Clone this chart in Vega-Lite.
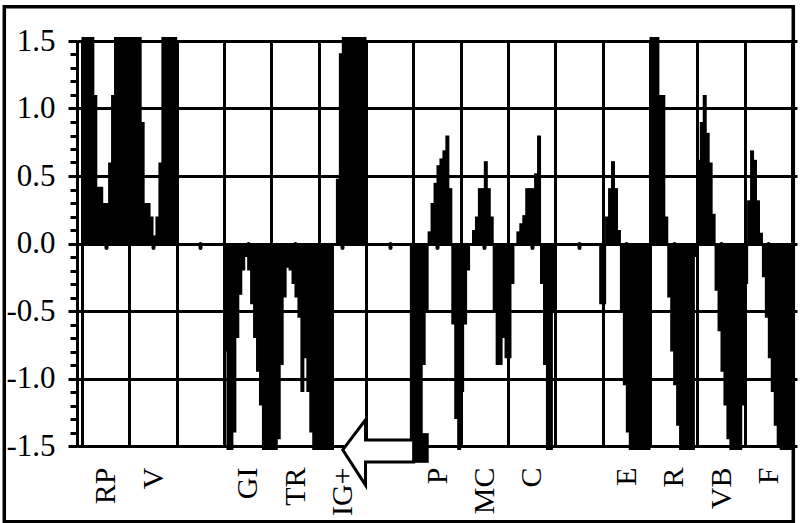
{
  "$schema": "https://vega.github.io/schema/vega-lite/v6.json",
  "width": 720,
  "height": 405,
  "autosize": "none",
  "padding": {"left": 77, "top": 41, "right": 4, "bottom": 77},
  "background": "white",
  "config": {
    "view": {"stroke": null},
    "legend": {"strokeWidth": 3.5},
    "axis": {
      "labelFont": "Liberation Serif",
      "labelColor": "black",
      "tickColor": "black",
      "domainColor": "black",
      "gridColor": "black",
      "gridOpacity": 1,
      "labelFlush": false,
      "labelOverlap": false
    }
  },
  "layer": [
    {
      "data": {"values": [
        {"n":1,"v":1.53},{"n":2,"v":1.53},{"n":3,"v":1.53},{"n":4,"v":1.53},{"n":5,"v":1.1},{"n":6,"v":0.42},{"n":7,"v":0.42},{"n":8,"v":0.3},{"n":9,"v":0.3},{"n":10,"v":0.6},{"n":11,"v":1.1},{"n":12,"v":1.53},{"n":13,"v":1.53},{"n":14,"v":1.53},{"n":15,"v":1.53},{"n":16,"v":1.53},
        {"n":17,"v":1.53},{"n":18,"v":1.53},{"n":19,"v":1.53},{"n":20,"v":1.53},{"n":21,"v":0.9},{"n":22,"v":0.3},{"n":23,"v":0.3},{"n":24,"v":0.2},{"n":25,"v":0.06},{"n":26,"v":0.2},{"n":27,"v":0.6},{"n":28,"v":1.53},{"n":29,"v":1.53},{"n":30,"v":1.53},{"n":31,"v":1.53},{"n":32,"v":1.53},
        {"n":49,"v":-0.8},{"n":50,"v":-1.53},{"n":51,"v":-1.53},{"n":52,"v":-1.4},{"n":53,"v":-0.7},{"n":54,"v":-0.38},{"n":55,"v":-0.2},{"n":56,"v":-0.1},{"n":57,"v":-0.2},{"n":58,"v":-0.45},{"n":59,"v":-0.7},{"n":60,"v":-0.95},{"n":61,"v":-1.2},{"n":62,"v":-1.53},{"n":63,"v":-1.53},{"n":64,"v":-1.53},
        {"n":65,"v":-1.53},{"n":66,"v":-1.53},{"n":67,"v":-1.45},{"n":68,"v":-0.9},{"n":69,"v":-0.4},{"n":70,"v":-0.18},{"n":71,"v":-0.2},{"n":72,"v":-0.3},{"n":73,"v":-0.4},{"n":74,"v":-0.55},{"n":75,"v":-1.1},{"n":76,"v":-0.85},{"n":77,"v":-1.1},{"n":78,"v":-1.4},{"n":79,"v":-1.53},{"n":80,"v":-1.53},
        {"n":81,"v":-1.53},{"n":82,"v":-1.53},{"n":83,"v":-1.53},{"n":84,"v":-1.53},{"n":85,"v":-1.53},{"n":87,"v":0.48},{"n":88,"v":1.41},{"n":89,"v":1.53},{"n":90,"v":1.53},{"n":91,"v":1.53},{"n":92,"v":1.53},{"n":93,"v":1.53},{"n":94,"v":1.53},{"n":95,"v":1.53},{"n":96,"v":1.53},
        {"n":112,"v":-1.53},
        {"n":113,"v":-1.53},{"n":114,"v":-1.53},{"n":115,"v":-1.53},{"n":116,"v":-0.9},{"n":117,"v":-0.5},{"n":118,"v":0.09},{"n":119,"v":0.3},{"n":120,"v":0.45},{"n":121,"v":0.58},{"n":122,"v":0.63},{"n":123,"v":0.69},{"n":124,"v":0.8},{"n":125,"v":0.41},{"n":126,"v":-0.6},{"n":127,"v":-1.3},{"n":128,"v":-1.53},
        {"n":129,"v":-1.1},{"n":130,"v":-0.6},{"n":131,"v":-0.2},{"n":133,"v":0.1},{"n":134,"v":0.2},{"n":135,"v":0.41},{"n":136,"v":0.41},{"n":137,"v":0.61},{"n":138,"v":0.41},{"n":139,"v":0.2},{"n":140,"v":-0.5},{"n":141,"v":-0.9},{"n":142,"v":-0.9},{"n":143,"v":-0.7},{"n":144,"v":-0.85},
        {"n":145,"v":-0.85},{"n":146,"v":-0.3},{"n":148,"v":0.09},{"n":149,"v":0.15},{"n":150,"v":0.21},{"n":151,"v":0.41},{"n":152,"v":0.41},{"n":153,"v":0.41},{"n":154,"v":0.52},{"n":155,"v":0.8},{"n":156,"v":-0.3},{"n":157,"v":-0.9},{"n":158,"v":-1.53},{"n":159,"v":-1.53},{"n":160,"v":-0.5},
        {"n":176,"v":-0.45},
        {"n":177,"v":-0.45},{"n":178,"v":0.2},{"n":179,"v":0.41},{"n":180,"v":0.61},{"n":181,"v":0.41},{"n":182,"v":0.1},{"n":183,"v":-0.5},{"n":184,"v":-1.05},{"n":185,"v":-1.4},{"n":186,"v":-1.53},{"n":187,"v":-1.53},{"n":188,"v":-1.53},{"n":189,"v":-1.53},{"n":190,"v":-1.53},{"n":191,"v":-1.53},{"n":192,"v":-1.53},
        {"n":193,"v":1.53},{"n":194,"v":1.53},{"n":195,"v":1.53},{"n":196,"v":1.1},{"n":197,"v":1.1},{"n":198,"v":0.2},{"n":199,"v":-0.4},{"n":200,"v":-0.8},{"n":201,"v":-1.05},{"n":202,"v":-1.35},{"n":203,"v":-1.53},{"n":204,"v":-1.53},{"n":205,"v":-1.53},{"n":206,"v":-1.53},{"n":207,"v":-1.53},{"n":208,"v":-0.1},
        {"n":209,"v":0.62},{"n":210,"v":0.9},{"n":211,"v":1.1},{"n":212,"v":0.82},{"n":213,"v":0.6},{"n":214,"v":0.22},{"n":215,"v":-0.35},{"n":216,"v":-0.65},{"n":217,"v":-0.95},{"n":218,"v":-1.2},{"n":219,"v":-1.45},{"n":220,"v":-1.53},{"n":221,"v":-1.53},{"n":222,"v":-1.53},{"n":223,"v":-1.53},{"n":224,"v":-1.2},
        {"n":225,"v":-0.3},{"n":226,"v":0.32},{"n":227,"v":0.69},{"n":228,"v":0.62},{"n":229,"v":0.32},{"n":230,"v":0.08},{"n":231,"v":-0.25},{"n":232,"v":-0.55},{"n":233,"v":-0.85},{"n":234,"v":-1.1},{"n":235,"v":-1.35},{"n":236,"v":-1.5},{"n":237,"v":-1.53},{"n":238,"v":-1.53},{"n":239,"v":-1.53},{"n":240,"v":-1.53}
      ]},
      "mark": {"type": "bar", "width": 4, "color": "black"},
      "encoding": {
        "x": {
          "field": "n", "type": "quantitative",
          "scale": {"domain": [0.5, 240.5], "nice": false, "zero": false},
          "axis": {
            "orient": "bottom", "title": null,
            "values": [0.5,16.5,32.5,48.5,64.5,80.5,96.5,112.5,128.5,144.5,160.5,176.5,192.5,208.5,224.5,240.5],
            "grid": true, "gridWidth": 3, "labels": false, "ticks": false, "domain": false
          }
        },
        "y": {
          "field": "v", "type": "quantitative", "stack": null,
          "scale": {"domain": [-1.5, 1.5], "nice": false},
          "axis": {
            "orient": "left", "title": null,
            "values": [-1.5,-1,-0.5,0,0.5,1,1.5],
            "grid": true, "gridWidth": 3,
            "ticks": true, "tickSize": 9, "tickWidth": 3,
            "domain": true, "domainWidth": 3,
            "labelFontSize": 31, "labelPadding": 13, "labelAlign": "right", "labelBaseline": "middle",
            "labelExpr": "datum.value < 0 ? '-' + format(-datum.value, '.1f') : format(datum.value, '.1f')"
          }
        }
      }
    },
    {
      "data": {"values": [{"n": 103.17, "v": -1.548}]},
      "mark": {
        "type": "point",
        "shape": "M-1,-0.06L-0.47,-0.76L-0.47,-0.29L0.65,-0.29L0.65,0.22L-0.47,0.22L-0.47,0.76Z",
        "size": 7396, "filled": true, "fill": "white", "stroke": "black", "strokeWidth": 3,
        "opacity": 1, "strokeJoin": "miter"
      },
      "encoding": {
        "x": {
          "field": "n", "type": "quantitative",
          "scale": {"domain": [0.5, 240.5], "nice": false, "zero": false},
          "axis": {
            "orient": "bottom", "title": null,
            "values": [8.5,24.5,40.5,56.5,72.5,88.5,104.5,120.5,136.5,152.5,168.5,184.5,200.5,216.5,232.5],
            "grid": false, "ticks": false, "tickSize": 0, "domain": false,
            "labelAngle": -90, "labelAlign": "right", "labelBaseline": "middle",
            "labelFontSize": 30, "labelPadding": 21,
            "labelExpr": "['RP','V','','GI','TR','IG+','','P','MC','C','','E','R','VB','F'][floor(datum.value / 16)]"
          }
        },
        "y": {
          "field": "v", "type": "quantitative",
          "scale": {"domain": [-1.5, 1.5], "nice": false},
          "axis": {
            "orient": "left", "title": null,
            "values": [-1.4,-1.3,-1.2,-1.1,-0.9,-0.8,-0.7,-0.6,-0.4,-0.3,-0.2,-0.1,0.1,0.2,0.3,0.4,0.6,0.7,0.8,0.9,1.1,1.2,1.3,1.4],
            "grid": false, "labels": false, "domain": false,
            "ticks": true, "tickSize": 7, "tickWidth": 3
          }
        }
      }
    },
    {
      "data": {"values": [{"n": 103.17, "v": -1.548}]},
      "mark": {
        "type": "point",
        "shape": "M0.63,-0.45L1,-0.45L1,0.24L0.63,0.24Z",
        "size": 7396, "filled": true, "opacity": 1
      },
      "encoding": {
        "x": {
          "field": "n", "type": "quantitative",
          "scale": {"domain": [0.5, 240.5], "nice": false, "zero": false},
          "axis": {
            "orient": "bottom", "title": null, "offset": -202.5,
            "values": [8.5,24.5,40.5,56.5,72.5,88.5,104.5,120.5,136.5,152.5,168.5,184.5,200.5,216.5,232.5],
            "grid": false, "labels": false, "domain": false,
            "ticks": true, "tickSize": 4, "tickWidth": 4, "tickCap": "round"
          }
        },
        "y": {
          "field": "v", "type": "quantitative",
          "scale": {"domain": [-1.5, 1.5], "nice": false},
          "axis": null
        },
        "color": {
          "field": "v", "type": "quantitative",
          "scale": {"domain": [0, 1], "range": ["black", "black"]},
          "legend": {
            "orient": "none", "legendX": -72.7, "legendY": -34.3,
            "direction": "vertical", "title": null,
            "gradientLength": 515, "gradientThickness": 789,
            "gradientOpacity": 0, "gradientStrokeWidth": 0,
            "labelExpr": "''", "labelOffset": 0, "labelFontSize": 1,
            "padding": 0, "strokeColor": "black"
          }
        }
      }
    }
  ],
  "resolve": {"scale": {"x": "shared", "y": "shared"}, "axis": {"x": "independent", "y": "independent"}}
}
